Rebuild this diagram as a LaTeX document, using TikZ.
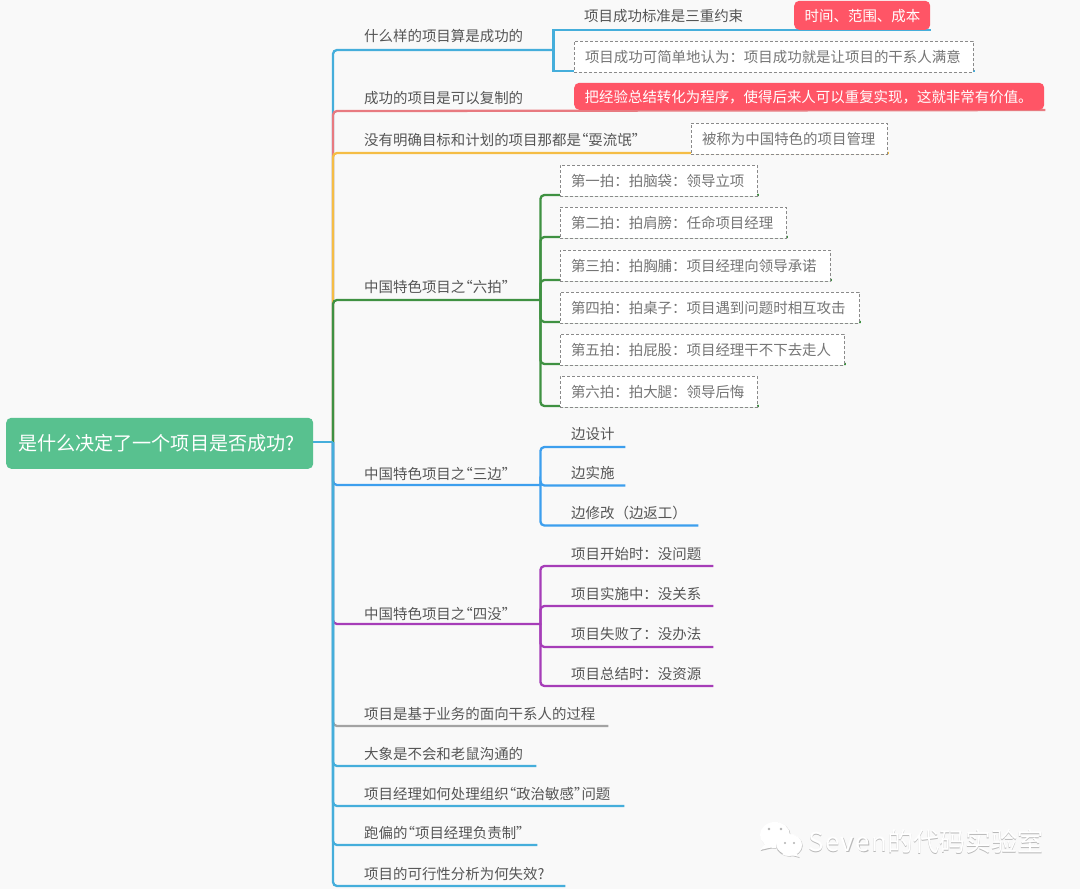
\documentclass[tikz,border=0pt]{standalone}
\usepackage{fontspec}
\setmainfont{Noto Sans CJK SC}
\usetikzlibrary{backgrounds}
\definecolor{paperbg}{HTML}{F9F9F9}
\definecolor{rootgreen}{HTML}{58C18F}
\definecolor{tagred}{HTML}{FF5566}
\definecolor{inkgray}{HTML}{555555}
\definecolor{notegray}{HTML}{757575}
\definecolor{dashgray}{HTML}{8A8A8A}
\definecolor{lineblue}{HTML}{45AEDB}
\definecolor{linepink}{HTML}{E87A80}
\definecolor{lineyellow}{HTML}{F5BD45}
\definecolor{linegreen}{HTML}{3F9142}
\definecolor{linesky}{HTML}{3D9FEE}
\definecolor{linepurple}{HTML}{A63DB8}
\definecolor{linegray}{HTML}{A3A3A3}
\newcommand{\lquo}{\makebox[.52em][r]{“}}
\newcommand{\rquo}{\makebox[.52em][l]{”}}
\tikzset{
  bodyfont/.style={font=\fontsize{14.45}{17}\selectfont},
  topic/.style={bodyfont, anchor=south west, align=left, text=inkgray,
    inner xsep=0pt, inner ysep=0pt, minimum height=24pt},
  notebox/.style={bodyfont, anchor=south west, align=left, text=notegray,
    draw=dashgray, densely dashed, line width=0.9pt, fill=white, outer sep=-1.2pt, xshift=1.2pt,
    inner xsep=11pt, inner ysep=0pt, text depth=0pt, minimum height=31pt},
  tagbox/.style={bodyfont, anchor=south west, align=left, text=white,
    fill=tagred, rounded corners=5pt, inner xsep=10.5pt, inner ysep=0pt, text depth=0pt},
  branch/.style={line width=2.3pt, rounded corners=4pt, shorten >=-1pt},
  noteline/.style={branch, shorten >=-3pt}
}
\begin{document}
\begin{tikzpicture}[x=1pt, y=-1pt]
    % Raiz
    \node[anchor=south west, align=left, text=white, fill=rootgreen, rounded corners=5pt,
      font=\fontsize{19.1}{22}\selectfont, inner xsep=12pt, inner ysep=0pt,
      text width=283pt, minimum height=51pt] (root) at (6,469)
      {是什么决定了一个项目是否成功?};
    \coordinate (hub) at (333,442);

    % Primeiro ramo
    \node[topic, text width=189pt, minimum height=27pt] (success) at (364,50) {什么样的项目算是成功的};
    \node[topic, text width=210pt, minimum height=27pt] (criteria) at (584,30) {项目成功标准是三重约束};
    \node[tagbox, text width=115pt, minimum height=29pt] (timetag) at (794,30) {时间、范围、成本};
    \node[notebox, text width=377pt] (stakeholder) at (574,71)
      {项目成功可简单地认为：项目成功就是让项目的干系人满意};

    \node[topic, text width=210pt, minimum height=26pt] (copyable) at (364,111) {成功的项目是可以复制的};
    \node[tagbox, text width=449pt, minimum height=27pt] (copytag) at (574,110)
      {把经验总结转化为程序，使得后来人可以重复实现，这就非常有价值。};

    \node[topic, text width=306pt, minimum height=26pt] (noplan) at (364,153) {没有明确目标和计划的项目那都是\lquo 耍流氓\rquo};
    \node[notebox, text width=174pt] (plannote) at (691,153) {被称为中国特色的项目管理};

    % Seis batidas
    \node[topic, text width=176pt, minimum height=26pt] (sixpat) at (364,300) {中国特色项目之\lquo 六拍\rquo};
    \node[notebox, text width=175pt] (pat1) at (560,195) {第一拍：拍脑袋：领导立项};
    \node[notebox, text width=204pt] (pat2) at (560,237) {第二拍：拍肩膀：任命项目经理};
    \node[notebox, text width=248pt] (pat3) at (560,280) {第三拍：拍胸脯：项目经理向领导承诺};
    \node[notebox, text width=277pt] (pat4) at (560,322) {第四拍：拍桌子：项目遇到问题时相互攻击};
    \node[notebox, text width=262pt] (pat5) at (560,364) {第五拍：拍屁股：项目经理干不下去走人};
    \node[notebox, text width=175pt] (pat6) at (560,406) {第六拍：拍大腿：领导后悔};

    % Tres lados
    \node[topic, text width=176pt, minimum height=21pt] (threeside) at (364,485) {中国特色项目之\lquo 三边\rquo};
    \node[topic, text width=53pt, minimum height=25pt] (side1) at (571,447) {边设计};
    \node[topic, text width=53pt] (side2) at (571,485.5) {边实施};
    \node[topic, text width=126pt] (side3) at (571,525.5) {边修改（边返工）};

    % Quatro nadas
    \node[topic, text width=176pt, minimum height=19pt] (fournone) at (364,624) {中国特色项目之\lquo 四没\rquo};
    \node[topic, text width=141pt] (none1) at (571,566) {项目开始时：没问题};
    \node[topic, text width=141pt] (none2) at (571,606) {项目实施中：没关系};
    \node[topic, text width=141pt, minimum height=26pt] (none3) at (571,647) {项目失败了：没办法};
    \node[topic, text width=141pt] (none4) at (571,686) {项目总结时：没资源};

    % Ramos finais
    \node[topic, text width=243pt] (process) at (364,726) {项目是基于业务的面向干系人的过程};
    \node[topic, text width=171pt] (elephant) at (364,766) {大象是不会和老鼠沟通的};
    \node[topic, text width=259pt] (politics) at (364,806) {项目经理如何处理组织\lquo 政治敏感\rquo 问题};
    \node[topic, text width=172pt] (offtrack) at (364,845) {跑偏的\lquo 项目经理负责制\rquo};
    \node[topic, text width=200pt] (feasible) at (364,886) {项目的可行性分析为何失效?};

    % Marca d'agua
    \fill[gray!55] (775.7,835.7) ellipse (15 and 13);
    \fill[gray!55] (789.7,845.7) ellipse (13 and 11);
    \fill[gray!55] (765.7,845) -- (760.7,851) -- (773.7,848) -- cycle;
    \fill[gray!55] (795.7,853) -- (799.7,858) -- (788.7,855) -- cycle;
    \fill[white] (775,835) ellipse (15 and 13);
    \fill[white] (765,844) -- (760,850) -- (773,847) -- cycle;
    \draw[white, fill=white] (789,845) ellipse (13 and 11);
    \fill[gray!55] (789,845) ++(-13,0) arc[start angle=180, end angle=120, x radius=13, y radius=11]
      -- ++(0,-1.2) arc[start angle=120, end angle=180, x radius=13, y radius=11] -- cycle;
    \fill[white] (795,852) -- (799,857) -- (788,854) -- cycle;
    \foreach \ex/\ey/\er in {769/829/1.3, 781/829/1.3, 785/843/1.1, 794/843/1.1}
      \fill[gray!60] (\ex,\ey) circle (\er);
    \node[anchor=west, inner sep=0pt, text=gray!55, font=\fontsize{26}{30}\selectfont] (wmshade) at (808.7,842.7)
      {{\addfontfeature{LetterSpace=5}Seven}的代码实验室};
    \node[anchor=west, inner sep=0pt, text=white, font=\fontsize{26}{30}\selectfont] (wmtext) at (808,842)
      {{\addfontfeature{LetterSpace=5}Seven}的代码实验室};

    \begin{scope}[on background layer]
      \fill[paperbg] (0,0) rectangle (1080,889);
      \draw[branch, lineblue] (hub) |- (success.south east);
      \draw[branch, lineblue, rounded corners=0pt] (success.south east) |- (criteria.south west) -- (timetag.south east);
      \draw[noteline, lineblue, rounded corners=0pt] (success.south east) |- (stakeholder.south west) -- (stakeholder.south east);
      \draw[branch, linepink] (hub) |- (copyable.south west) -- (copytag.south east);
      \draw[noteline, lineyellow] (hub) |- (noplan.south east) -- (plannote.south west) -- (plannote.south east);
      \draw[branch, linegreen] (hub) |- (sixpat.south east);
      \draw[noteline, linegreen] (sixpat.south east) |- (pat1.south west) -- (pat1.south east);
      \draw[noteline, linegreen] (sixpat.south east) |- (pat2.south west) -- (pat2.south east);
      \draw[noteline, linegreen] (sixpat.south east) |- (pat3.south west) -- (pat3.south east);
      \draw[noteline, linegreen] (sixpat.south east) |- (pat4.south west) -- (pat4.south east);
      \draw[noteline, linegreen] (sixpat.south east) |- (pat5.south west) -- (pat5.south east);
      \draw[noteline, linegreen] (sixpat.south east) |- (pat6.south west) -- (pat6.south east);
      \draw[branch, linesky] (hub) |- (threeside.south east);
      \draw[branch, linesky] (threeside.south east) |- (side1.south east);
      \draw[branch, linesky] (threeside.south east) |- (side2.south east);
      \draw[branch, linesky] (threeside.south east) |- (side3.south east);
      \draw[branch, linepurple] (hub) |- (fournone.south east);
      \draw[branch, linepurple] (fournone.south east) |- (none1.south east);
      \draw[branch, linepurple] (fournone.south east) |- (none2.south east);
      \draw[branch, linepurple] (fournone.south east) |- (none3.south east);
      \draw[branch, linepurple] (fournone.south east) |- (none4.south east);
      \draw[branch, linegray] (hub) |- (process.south east);
      \draw[branch, lineblue] (hub) |- (elephant.south east);
      \draw[branch, lineblue] (hub) |- (politics.south east);
      \draw[branch, lineblue] (hub) |- (offtrack.south east);
      \draw[branch, lineblue] (hub) |- (feasible.south east);
      \draw[line width=2.6pt, lineblue] (root.east |- hub) -- (hub);
    \end{scope}
  \end{tikzpicture}
\end{document}
